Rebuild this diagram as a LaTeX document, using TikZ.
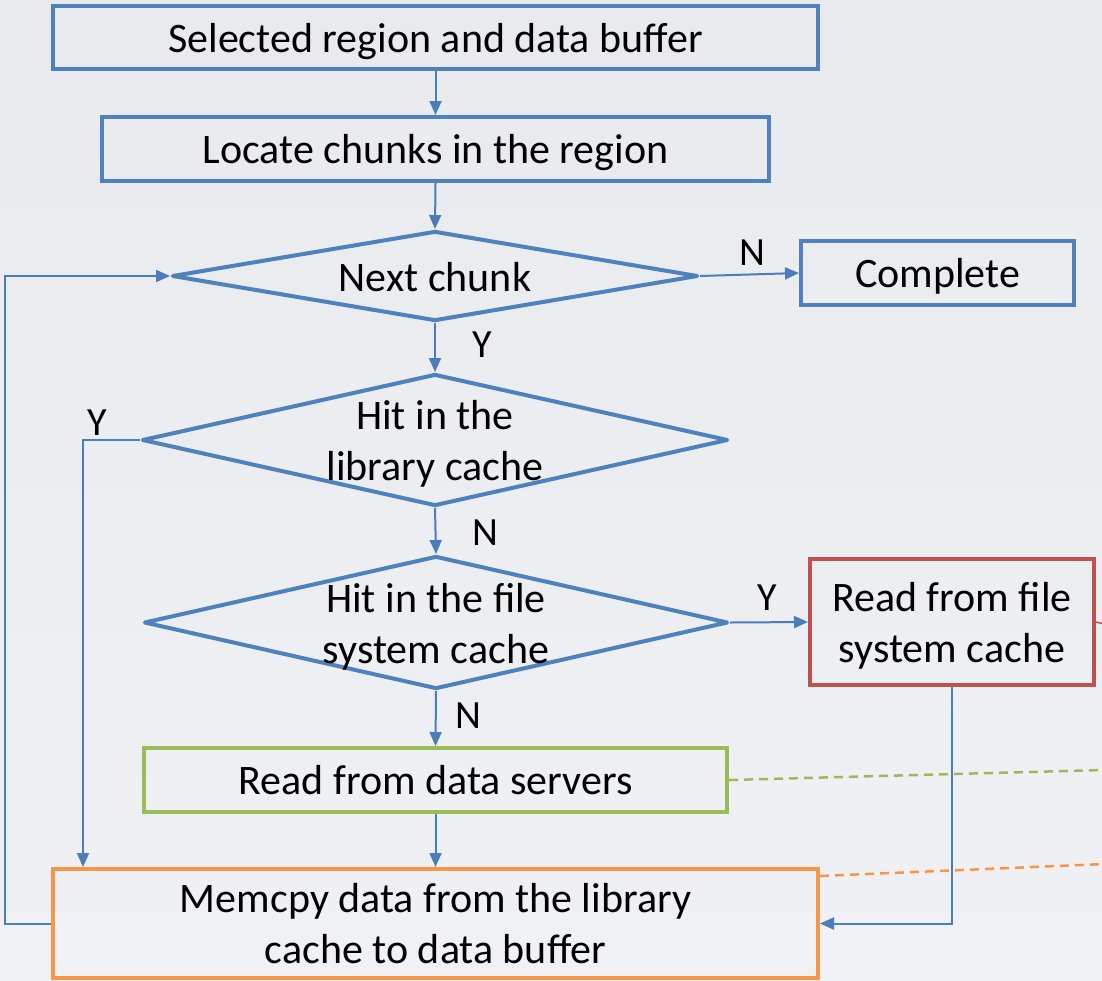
\documentclass[tikz,border=0pt]{standalone}
\usepackage{fontspec}
\setmainfont{Carlito}
\usetikzlibrary{shapes.geometric,arrows.meta}

\definecolor{bgtop}{HTML}{E8EAEE}
\definecolor{bgbottom}{HTML}{F0F1F4}
\definecolor{flowblue}{HTML}{4F81BD}
\definecolor{linkblue}{HTML}{4A7EBB}
\definecolor{flowred}{HTML}{C0504D}
\definecolor{flowgreen}{HTML}{9BBB59}
\definecolor{floworange}{HTML}{F79646}

\tikzset{
  procbox/.style={draw=#1, line width=4pt, rectangle, inner sep=0pt,
    align=center, text depth=0pt, font=\fontsize{42}{51}\selectfont},
  decision/.style={draw=flowblue, line width=4pt, diamond, inner sep=0pt,
    line join=round},
  dtext/.style={align=center, font=\fontsize{42}{51}\selectfont, inner sep=0pt},
  conn/.style={draw=linkblue, line width=2pt,
    -{Triangle[length=14pt,width=12pt]}},
  yn/.style={font=\fontsize{40}{48}\selectfont, inner sep=0pt},
  dashlink/.style={line width=2.5pt, dash pattern=on 9pt off 6pt}
}

\begin{document}
\begin{tikzpicture}[x=1pt, y=-1pt]
  % canvas
  \shade[top color=bgtop, bottom color=bgbottom] (0,0) rectangle (1102,980);
  \useasboundingbox (0,0) rectangle (1102,980);

  % process boxes
  \node[procbox=flowblue, minimum width=765pt, minimum height=63pt]
    (sel) at (435.5,37.5) {Selected region and data buffer};
  \node[procbox=flowblue, minimum width=667pt, minimum height=64pt]
    (loc) at (435.5,149) {Locate chunks in the region};
  \node[procbox=flowblue, minimum width=273pt, minimum height=64pt]
    (done) at (937.5,273) {Complete};
  \node[procbox=flowred, minimum width=284pt, minimum height=126pt]
    (fsread) at (952,622) {Read from file\\system cache};
  \node[procbox=flowgreen, minimum width=583pt, minimum height=64pt]
    (srv) at (435.5,780) {Read from data servers};
  \node[procbox=floworange, minimum width=765pt, minimum height=109pt]
    (mem) at (435.5,923.5) {Memcpy data from the library\\cache to data buffer};

  % decisions
  \node[decision, minimum width=526pt, minimum height=90pt] (next) at (435,276) {};
  \node[dtext] at (435,277) {Next chunk};
  \node[decision, minimum width=586pt, minimum height=132pt] (libhit) at (435,440) {};
  \node[dtext] at (435,444) {Hit in the\\library cache};
  \node[decision, minimum width=584pt, minimum height=133pt] (fshit) at (436,622.5) {};
  \node[dtext] at (436,627) {Hit in the file\\system cache};

  % helper points
  \coordinate (loopx) at (5,0);
  \coordinate (greenend) at (1104,770);
  \coordinate (orangeend) at (1104,864);
  \coordinate (redend) at (1104,624);

  % main flow
  \draw[conn] (sel.south) -- (loc.north);
  \draw[conn] (loc.south) -- (next.north);
  \draw[conn] (next.east) -- (done.west);
  \draw[conn] (next.south) -- (libhit.north);
  \draw[conn] (libhit.south) -- (fshit.north);
  \draw[conn] (fshit.east) -- (fsread.west);
  \draw[conn] (fshit.south) -- (srv.north);
  \draw[conn] (srv.south) -- (mem.north);
  \draw[conn] (libhit.west) -| ([xshift=32pt]mem.north west);
  \draw[conn] (fsread.south) |- (mem.east);
  \draw[conn] (mem.west) -- (mem.west -| loopx) |- (next.west);

  % branch labels
  \node[yn] at (752,253) {N};
  \node[yn] at (482,345) {Y};
  \node[yn] at (97,423) {Y};
  \node[yn] at (485,533) {N};
  \node[yn] at (767,598) {Y};
  \node[yn] at (468,716) {N};

  % links leaving the frame
  \draw[dashlink, flowgreen] (srv.east) -- (greenend);
  \draw[dashlink, floworange] ([yshift=-9pt]mem.north east) -- (orangeend);
  \draw[flowred, line width=1.5pt] (fsread.east) -- (redend);
\end{tikzpicture}
\end{document}
